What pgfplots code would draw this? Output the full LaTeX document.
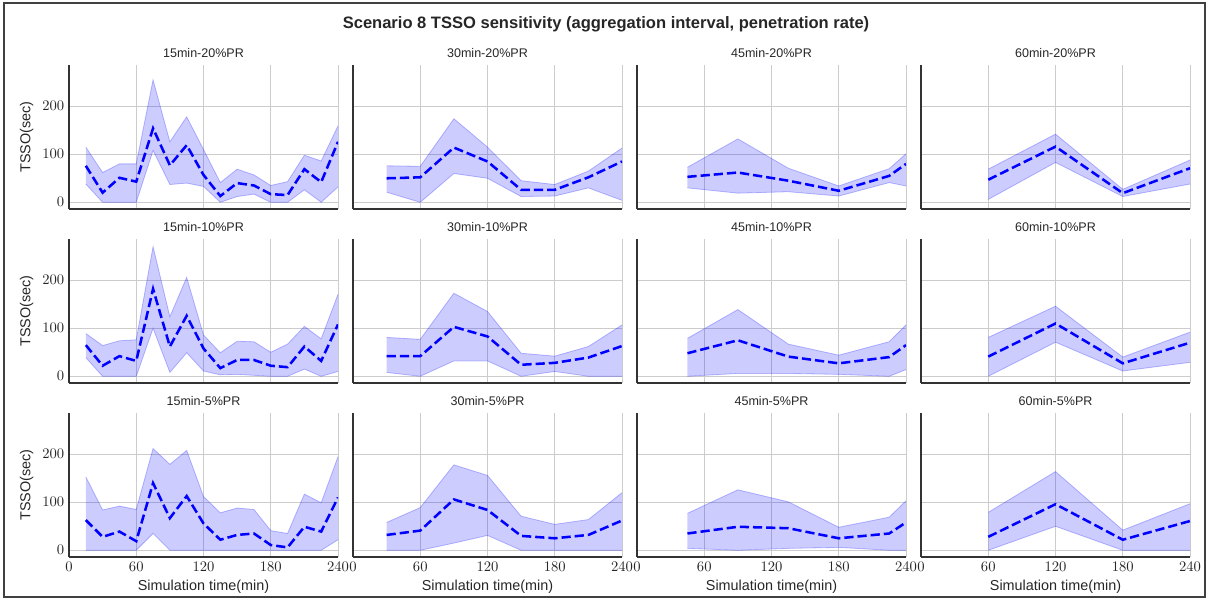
\documentclass[border=0pt]{standalone}
\usepackage{pgfplots}
\pgfplotsset{compat=1.18}
\usepackage{pgfplotstable}
\usepackage{fontspec}
\setmainfont{Liberation Sans}

% t = simulation time (min), m = mean TSSO, lo/hi = band limits (sec)
\pgfplotstableread{
t m lo hi
15 76 38 115
30 20 0 62
45 51 0 80
60 43 0 80
75 154 108 255
90 77 37 126
105 119 40 178
120 57 33 110
135 13 0 41
150 40 12 69
165 35 17 57
180 17 0 35
195 15 0 43
210 69 26 98
225 42 0 86
240 126 32 159
}\tabA
\pgfplotstableread{
t m lo hi
30 50 21 76
60 52 0 75
90 114 60 174
120 85 50 115
150 26 12 45
180 26 13 37
210 52 30 65
240 85 4 113
}\tabB
\pgfplotstableread{
t m lo hi
45 53 30 73
90 62 19 132
135 45 22 71
180 24 13 34
225 55 41 70
240 80 34 101
}\tabC
\pgfplotstableread{
t m lo hi
60 47 6 69
120 116 83 142
180 19 12 27
240 71 38 88
}\tabD
\pgfplotstableread{
t m lo hi
15 65 39 89
30 22 0 64
45 42 0 74
60 32 0 76
75 182 100 270
90 62 8 124
105 126 49 206
120 58 11 86
135 17 3 49
150 34 4 73
165 34 2 72
180 22 0 50
195 19 0 67
210 62 15 104
225 32 0 78
240 108 10 171
}\tabE
\pgfplotstableread{
t m lo hi
30 42 8 81
60 42 0 77
90 103 32 173
120 83 32 135
150 24 0 48
180 28 10 42
210 39 0 62
240 63 0 107
}\tabF
\pgfplotstableread{
t m lo hi
45 48 0 79
90 75 6 139
135 41 6 67
180 27 4 44
225 40 0 72
240 65 14 107
}\tabG
\pgfplotstableread{
t m lo hi
60 41 0 81
120 110 71 146
180 27 11 40
240 70 29 92
}\tabH
\pgfplotstableread{
t m lo hi
15 63 0 153
30 28 0 84
45 39 0 92
60 19 0 85
75 140 35 212
90 67 0 179
105 113 0 208
120 56 0 112
135 22 0 78
150 32 0 88
165 35 0 85
180 11 0 41
195 6 0 35
210 49 0 117
225 39 0 99
240 110 22 195
}\tabI
\pgfplotstableread{
t m lo hi
30 32 0 58
60 41 0 89
90 106 15 178
120 84 31 156
150 30 0 71
180 25 0 54
210 32 0 64
240 62 0 120
}\tabJ
\pgfplotstableread{
t m lo hi
45 35 4 77
90 49 0 126
135 46 4 101
180 25 6 48
225 35 0 69
240 58 0 103
}\tabK
\pgfplotstableread{
t m lo hi
60 28 0 79
120 96 50 164
180 22 0 42
240 61 0 97
}\tabL

\pgfplotsset{
  panel/.style={
    scale only axis, width=201.75pt, height=108pt, anchor=south west,
    xmin=0, xmax=240, ymin=-14, ymax=286,
    xtick={0,60,120,180,240}, ytick={0,100,200},
    grid=major, major grid style={black!20, line width=0.6pt},
    axis x line*=bottom, axis y line*=left,
    axis line style={-, black!80, line width=1.4pt},
    major tick length=0pt,
    tick label style={font=\fontsize{10.5}{12}\selectfont, text=black!85},
    label style={font=\fontsize{10.8}{13}\selectfont, text=black!85},
    title style={font=\fontsize{9.4}{11}\selectfont, text=black!85, yshift=-4pt},
  },
  bandedge/.style={blue, draw opacity=0.25, line width=0.6pt, forget plot},
  meanline/.style={blue, line width=1.9pt, dash pattern=on 6.9pt off 3pt},
}

% band between lo and hi: lo as invisible base, hi-lo stacked on top
\newcommand{\panel}[5]{%
\begin{axis}[panel, at={(#1,#2)}, title={#3}, #5]
\addplot[draw=none, stack plots=y, forget plot] table[x=t, y=lo]{#4};
\addplot[draw=none, fill=blue, fill opacity=0.2, stack plots=y, forget plot]
  table[x=t, y expr=\thisrow{hi}-\thisrow{lo}]{#4} \closedcycle;
\addplot[bandedge] table[x=t, y=hi]{#4};
\addplot[bandedge] table[x=t, y=lo]{#4};
\addplot[meanline] table[x=t, y=m]{#4};
\end{axis}}

\begin{document}
\begin{tikzpicture}
\useasboundingbox (0pt,0pt) rectangle (909pt,-450pt);
\draw[black!75, line width=0.9pt] (3pt,-2.25pt) rectangle (903.75pt,-447.75pt);
\node[font=\bfseries\fontsize{12.4}{14}\selectfont, text=black!85] at (454.5pt,-18pt)
  {Scenario 8 TSSO sensitivity (aggregation interval, penetration rate)};

% row 1: 20% penetration
\panel{51.75pt}{-156.75pt}{15min-20\%PR}{\tabA}{ylabel={TSSO(sec)}, xticklabels={}}
\panel{264.75pt}{-156.75pt}{30min-20\%PR}{\tabB}{xticklabels={}, yticklabels={}}
\panel{477.75pt}{-156.75pt}{45min-20\%PR}{\tabC}{xticklabels={}, yticklabels={}}
\panel{690.75pt}{-156.75pt}{60min-20\%PR}{\tabD}{xticklabels={}, yticklabels={}}
% row 2: 10% penetration
\panel{51.75pt}{-287.25pt}{15min-10\%PR}{\tabE}{ylabel={TSSO(sec)}, xticklabels={}}
\panel{264.75pt}{-287.25pt}{30min-10\%PR}{\tabF}{xticklabels={}, yticklabels={}}
\panel{477.75pt}{-287.25pt}{45min-10\%PR}{\tabG}{xticklabels={}, yticklabels={}}
\panel{690.75pt}{-287.25pt}{60min-10\%PR}{\tabH}{xticklabels={}, yticklabels={}}
% row 3: 5% penetration
\panel{51.75pt}{-417.75pt}{15min-5\%PR}{\tabI}{ylabel={TSSO(sec)}, xlabel={Simulation time(min)}}
\panel{264.75pt}{-417.75pt}{30min-5\%PR}{\tabJ}{yticklabels={}, xlabel={Simulation time(min)}}
\panel{477.75pt}{-417.75pt}{45min-5\%PR}{\tabK}{yticklabels={}, xlabel={Simulation time(min)}}
\panel{690.75pt}{-417.75pt}{60min-5\%PR}{\tabL}{yticklabels={}, xlabel={Simulation time(min)}}
\end{tikzpicture}
\end{document}
